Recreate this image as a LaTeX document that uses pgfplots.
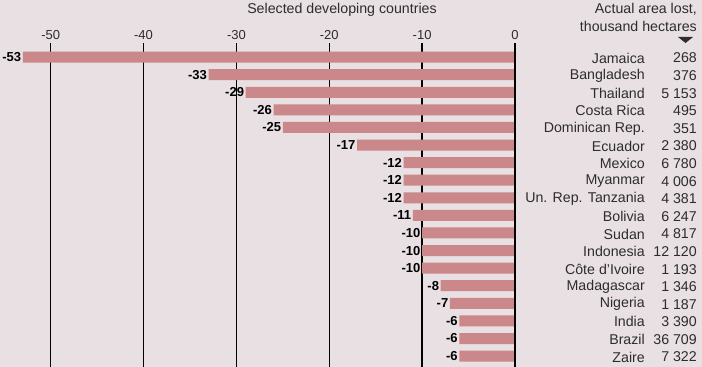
\documentclass[border=0pt]{standalone}
\usepackage{pgfplots}
\pgfplotsset{compat=1.18}
\usepackage{fontspec}
\setmainfont{Liberation Sans}
\definecolor{bg}{RGB}{232,224,226}
\definecolor{barc}{RGB}{203,136,139}
\definecolor{txt}{RGB}{45,45,45}
\begin{document}
\begin{tikzpicture}
\fill[bg, use as bounding box] (0pt,0pt) rectangle (702pt,367pt);
\begin{axis}[
  at={(0pt,0pt)}, anchor=south west,
  scale only axis, width=515pt, height=324pt,
  xmin=-55.46, xmax=0, ymin=-0.80, ymax=17.62,
  y dir=reverse,
  clip=false,
  axis x line*=top, axis y line*=right,
  axis line style={draw=none},
  major tick length=0pt,
  xtick={-50,-40,-30,-20,-10,0},
  xticklabels={-50,-40,-30,-20,-10,0},
  xmajorgrids, grid style={black, line width=1.3pt},
  x tick label style={font=\fontsize{13}{13}\selectfont, text=txt},
  ytick={0,...,17},
  yticklabels={Jamaica,Bangladesh,Thailand,Costa Rica,Dominican Rep.,Ecuador,Mexico,Myanmar,Un. Rep. Tanzania,Bolivia,Sudan,Indonesia,Côte d'Ivoire,Madagascar,Nigeria,India,Brazil,Zaire},
  y tick label style={font=\fontsize{14.2}{16}\selectfont, text=txt, anchor=east, inner sep=0pt, xshift=130pt, yshift=-1pt},
]
\addplot[xbar, bar width=11pt, fill=barc, draw=none,
  nodes near coords, point meta=explicit symbolic,
  nodes near coords style={anchor=east, inner sep=1.5pt, font=\fontsize{13}{13}\selectfont\bfseries, text=black}]
  coordinates {(-53,0)[-53] (-33,1)[-33] (-29,2)[-29] (-26,3)[-26] (-25,4)[-25] (-17,5)[-17]
  (-12,6)[-12] (-12,7)[-12] (-12,8)[-12] (-11,9)[-11] (-10,10)[-10] (-10,11)[-10] (-10,12)[-10]
  (-8,13)[-8] (-7,14)[-7] (-6,15)[-6] (-6,16)[-6] (-6,17)[-6]};
\addplot[draw=none, nodes near coords, point meta=explicit symbolic,
  nodes near coords style={anchor=east, inner sep=0pt, xshift=182pt, yshift=-1pt, font=\fontsize{14.2}{16}\selectfont, text=txt}]
  coordinates {(0,0)[268] (0,1)[376] (0,2)[5 153] (0,3)[495] (0,4)[351] (0,5)[2 380]
  (0,6)[6 780] (0,7)[4 006] (0,8)[4 381] (0,9)[6 247] (0,10)[4 817] (0,11)[12 120] (0,12)[1 193]
  (0,13)[1 346] (0,14)[1 187] (0,15)[3 390] (0,16)[36 709] (0,17)[7 322]};
\addplot[black, line width=1.9pt] coordinates {(0,-0.8) (0,17.62)};
\end{axis}
\node[anchor=base, font=\fontsize{14.2}{16}\selectfont, text=txt] at (342pt,353pt) {Selected developing countries};
\node[anchor=base east, inner sep=0pt, font=\fontsize{14.2}{16}\selectfont, text=txt] at (697pt,353pt) {Actual area lost,};
\node[anchor=base east, inner sep=0pt, font=\fontsize{14.2}{16}\selectfont, text=txt] at (697pt,335pt) {thousand hectares};
\fill[txt] (678pt,330pt) -- (693pt,330pt) -- (685.5pt,324pt) -- cycle;
\end{tikzpicture}
\end{document}
